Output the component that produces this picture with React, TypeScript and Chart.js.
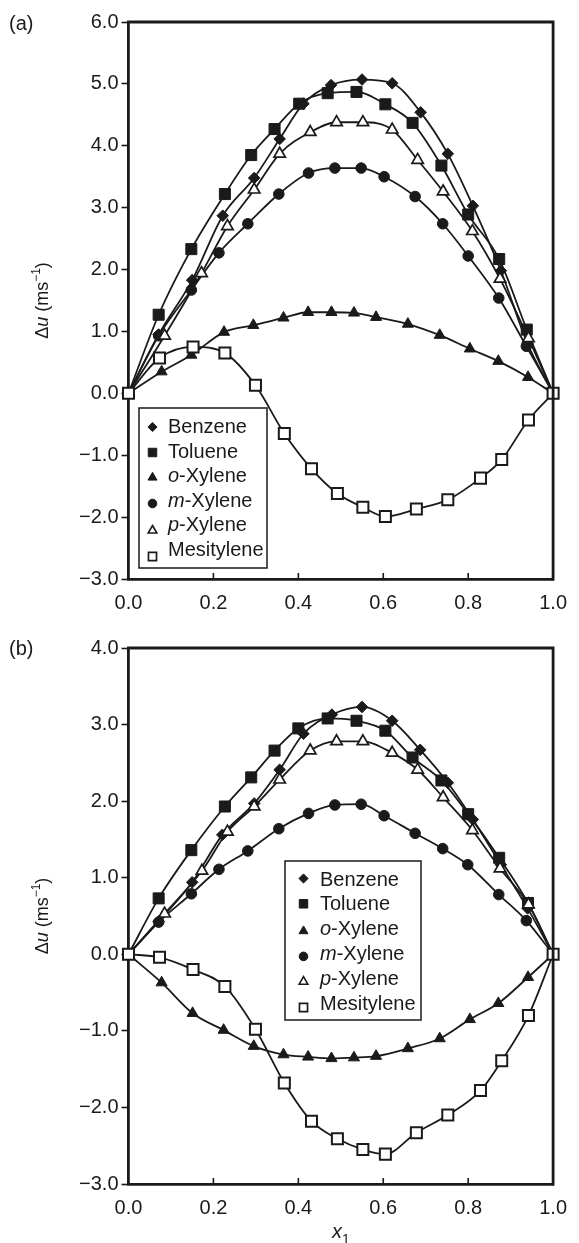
import React, { useEffect, useRef } from 'react';
import { Chart, registerables } from 'chart.js';
import { drawPoint } from 'chart.js/helpers';

Chart.register(...registerables);

// ---------- data ----------
const seriesNames = ['Benzene', 'Toluene', 'o-Xylene', 'm-Xylene', 'p-Xylene', 'Mesitylene'];
const xTicks = [0, 0.2, 0.4, 0.6, 0.8, 1.0];
const yTicksA = [-3, -2, -1, 0, 1, 2, 3, 4, 5, 6];
const yTicksB = [-3, -2, -1, 0, 1, 2, 3, 4];

// Panel (a)
const benzeneAX = [0, 0.071, 0.15, 0.222, 0.296, 0.356, 0.412, 0.477, 0.55, 0.621, 0.688, 0.752, 0.811, 0.877, 0.94, 1];
const benzeneAY = [0, 0.95, 1.83, 2.87, 3.48, 4.11, 4.68, 4.98, 5.07, 5.01, 4.54, 3.87, 3.03, 1.98, 0.8, 0];
const tolueneAX = [0, 0.071, 0.148, 0.227, 0.289, 0.344, 0.402, 0.469, 0.537, 0.605, 0.669, 0.737, 0.8, 0.873, 0.938, 1];
const tolueneAY = [0, 1.27, 2.33, 3.22, 3.85, 4.27, 4.68, 4.85, 4.87, 4.67, 4.37, 3.68, 2.89, 2.17, 1.03, 0];
const oXyleneAX = [0, 0.078, 0.148, 0.225, 0.294, 0.365, 0.423, 0.478, 0.531, 0.583, 0.658, 0.733, 0.804, 0.871, 0.941, 1];
const oXyleneAY = [0, 0.35, 0.62, 0.99, 1.1, 1.22, 1.31, 1.31, 1.3, 1.23, 1.12, 0.94, 0.72, 0.52, 0.26, 0];
const mXyleneAX = [0, 0.071, 0.148, 0.213, 0.281, 0.354, 0.424, 0.486, 0.548, 0.602, 0.675, 0.74, 0.8, 0.872, 0.937, 1];
const mXyleneAY = [0, 0.93, 1.67, 2.27, 2.74, 3.22, 3.56, 3.64, 3.64, 3.5, 3.18, 2.74, 2.22, 1.54, 0.76, 0];
const pXyleneAX = [0, 0.085, 0.172, 0.233, 0.296, 0.356, 0.428, 0.49, 0.552, 0.621, 0.681, 0.741, 0.81, 0.875, 0.942, 1];
const pXyleneAY = [0, 0.93, 1.94, 2.7, 3.29, 3.87, 4.22, 4.38, 4.38, 4.26, 3.77, 3.26, 2.62, 1.85, 0.89, 0];
const mesityleneAX = [0, 0.073, 0.152, 0.227, 0.299, 0.367, 0.431, 0.492, 0.552, 0.605, 0.678, 0.752, 0.829, 0.879, 0.942, 1];
const mesityleneAY = [0, 0.57, 0.75, 0.65, 0.13, -0.65, -1.22, -1.62, -1.84, -1.99, -1.87, -1.72, -1.37, -1.07, -0.43, 0];

// Panel (b)
const benzeneBX = [0, 0.071, 0.15, 0.221, 0.296, 0.356, 0.412, 0.479, 0.55, 0.621, 0.687, 0.752, 0.811, 0.877, 0.94, 1];
const benzeneBY = [0, 0.43, 0.94, 1.56, 1.97, 2.41, 2.88, 3.13, 3.23, 3.05, 2.67, 2.24, 1.76, 1.17, 0.6, 0];
const tolueneBX = [0, 0.071, 0.148, 0.227, 0.289, 0.344, 0.4, 0.469, 0.537, 0.605, 0.669, 0.737, 0.8, 0.873, 0.941, 1];
const tolueneBY = [0, 0.73, 1.36, 1.93, 2.31, 2.66, 2.95, 3.08, 3.05, 2.92, 2.57, 2.27, 1.83, 1.26, 0.67, 0];
const oXyleneBX = [0, 0.078, 0.151, 0.224, 0.295, 0.365, 0.423, 0.478, 0.531, 0.583, 0.658, 0.733, 0.804, 0.871, 0.941, 1];
const oXyleneBY = [0, -0.37, -0.77, -0.99, -1.2, -1.31, -1.34, -1.36, -1.35, -1.33, -1.23, -1.1, -0.85, -0.64, -0.3, 0];
const mXyleneBX = [0, 0.071, 0.148, 0.213, 0.281, 0.354, 0.424, 0.486, 0.548, 0.602, 0.675, 0.74, 0.799, 0.872, 0.937, 1];
const mXyleneBY = [0, 0.42, 0.79, 1.11, 1.35, 1.64, 1.84, 1.95, 1.96, 1.81, 1.58, 1.38, 1.17, 0.78, 0.44, 0];
const pXyleneBX = [0, 0.085, 0.173, 0.233, 0.296, 0.356, 0.428, 0.49, 0.552, 0.621, 0.681, 0.741, 0.81, 0.875, 0.942, 1];
const pXyleneBY = [0, 0.53, 1.09, 1.6, 1.93, 2.28, 2.66, 2.78, 2.78, 2.63, 2.41, 2.05, 1.62, 1.12, 0.65, 0];
const mesityleneBX = [0, 0.073, 0.152, 0.227, 0.299, 0.367, 0.431, 0.492, 0.552, 0.605, 0.678, 0.752, 0.829, 0.879, 0.942, 1];
const mesityleneBY = [0, -0.04, -0.2, -0.42, -0.98, -1.68, -2.18, -2.41, -2.55, -2.61, -2.33, -2.1, -1.78, -1.39, -0.8, 0];

// ---------- styles ----------
const INK = '#1a1a1a';
const FONT = '"Liberation Sans", Arial, Helvetica, sans-serif';
const FS = 20;

type Mk = { style: string; r: number; fill: string; bw: number; ends: boolean; lr: number; lbw: number };
const MARKERS: Mk[] = [
  { style: 'rectRot', r: 5.8, fill: INK, bw: 1, ends: false, lr: 4.6, lbw: 1 },
  { style: 'rect', r: 7.8, fill: INK, bw: 1, ends: false, lr: 6, lbw: 1 },
  { style: 'triangle', r: 6.4, fill: INK, bw: 1, ends: false, lr: 5.2, lbw: 1 },
  { style: 'circle', r: 5.3, fill: INK, bw: 1, ends: false, lr: 4.3, lbw: 1 },
  { style: 'triangle', r: 6.6, fill: '#ffffff', bw: 1.7, ends: false, lr: 5, lbw: 1.6 },
  { style: 'rect', r: 7.8, fill: '#ffffff', bw: 2, ends: true, lr: 5.7, lbw: 1.7 },
];

function drawRich(ctx: CanvasRenderingContext2D, parts: { t: string; italic?: boolean; sup?: boolean; sub?: boolean }[], x: number, y: number, size: number, align: 'left' | 'center') {
  const fontFor = (p: any) => `${p.italic ? 'italic ' : ''}${p.sup || p.sub ? Math.round(size * 0.68) : size}px ${FONT}`;
  let total = 0;
  for (const p of parts) { ctx.font = fontFor(p); total += ctx.measureText(p.t).width; }
  let cx = align === 'center' ? x - total / 2 : x;
  ctx.textBaseline = 'alphabetic';
  ctx.textAlign = 'left';
  for (const p of parts) {
    ctx.font = fontFor(p);
    const dy = p.sup ? -size * 0.42 : p.sub ? size * 0.28 : 0;
    ctx.fillText(p.t, cx, y + dy);
    cx += ctx.measureText(p.t).width;
  }
}

const decorPlugin = {
  id: 'decor',
  afterDatasetsDraw(chart: any, _args: any, opts: any) {
    const { ctx, chartArea: ca, scales } = chart;
    ctx.save();
    // top & right frame
    ctx.strokeStyle = INK;
    ctx.lineWidth = 2.8;
    ctx.beginPath();
    ctx.moveTo(ca.left - 1.4, ca.top);
    ctx.lineTo(ca.right, ca.top);
    ctx.lineTo(ca.right, ca.bottom + 1.4);
    ctx.stroke();
    // inward x ticks
    ctx.lineWidth = 1.6;
    ctx.beginPath();
    for (const t of scales.x.ticks) {
      const px = scales.x.getPixelForValue(t.value);
      if (px <= ca.left + 2 || px >= ca.right - 2) continue;
      ctx.moveTo(px, ca.bottom);
      ctx.lineTo(px, ca.bottom - 6);
    }
    ctx.stroke();

    // legend
    const lg = opts.legend;
    const bx = ca.left + lg.dx, by = ca.top + lg.dy;
    ctx.lineWidth = 1.5;
    ctx.strokeStyle = INK;
    ctx.fillStyle = '#ffffff';
    ctx.fillRect(bx, by, lg.w, lg.h);
    ctx.strokeRect(bx, by, lg.w, lg.h);
    chart.data.datasets.forEach((ds: any, i: number) => {
      const m = MARKERS[i];
      const ty = by + lg.firstRow + i * lg.rowGap;
      const my = ty + lg.markerShift[i];
      ctx.fillStyle = m.fill;
      ctx.strokeStyle = INK;
      ctx.lineWidth = m.lbw;
      drawPoint(ctx, { pointStyle: m.style as any, radius: m.lr, borderWidth: m.lbw, rotation: 0 } as any, bx + lg.markerX, my);
      ctx.fillStyle = INK;
      const name: string = ds.label;
      const mm = name.match(/^([omp])(-.*)$/);
      const parts = mm ? [{ t: mm[1], italic: true }, { t: mm[2] }] : [{ t: name }];
      drawRich(ctx, parts, bx + lg.textX, ty + 7, FS, 'left');
    });

    // y title (rotated)
    ctx.fillStyle = INK;
    ctx.save();
    ctx.translate(opts.yTitleX, (ca.top + ca.bottom) / 2);
    ctx.rotate(-Math.PI / 2);
    drawRich(ctx, [{ t: '\u0394' }, { t: 'u', italic: true }, { t: ' (ms' }, { t: '\u22121', sup: true }, { t: ')' }], 0, 6, 18, 'center');
    ctx.restore();

    // panel label
    ctx.font = `${FS}px ${FONT}`;
    ctx.textAlign = 'left';
    ctx.textBaseline = 'middle';
    ctx.fillText(opts.panel, 9, opts.panelY);

    // x title
    if (opts.xTitle) {
      drawRich(ctx, [{ t: 'x', italic: true }, { t: '1', sub: true }], (ca.left + ca.right) / 2, ca.bottom + 54, FS, 'center');
    }
    ctx.restore();
  },
};

type Series = { name: string; xs: number[]; ys: number[] };

function Panel(props: {
  top: number; height: number; yMin: number; yMax: number; yTicks: number[];
  series: Series[]; padTop: number; xHeight: number; panel: string; panelY: number;
  legend: any; xTitle: boolean;
}) {
  const ref = useRef<HTMLCanvasElement>(null);
  useEffect(() => {
    const fmt = (v: number) => (v < 0 ? '\u2212' : '') + Math.abs(v).toFixed(1);
    const chart = new Chart(ref.current as HTMLCanvasElement, {
      type: 'line',
      data: {
        datasets: props.series.map((s, i) => {
          const m = MARKERS[i];
          const last = s.xs.length - 1;
          return {
            label: s.name,
            data: s.xs.map((x, j) => ({ x, y: s.ys[j] })),
            borderColor: INK,
            borderWidth: 1.8,
            fill: false,
            cubicInterpolationMode: 'monotone',
            pointStyle: m.style,
            pointRadius: s.xs.map((_, j) => ((j === 0 || j === last) && !m.ends ? 0 : m.r)),
            pointBackgroundColor: m.fill,
            pointBorderColor: INK,
            pointBorderWidth: m.bw,
            clip: false,
            order: props.series.length - i,
          } as any;
        }),
      },
      options: {
        animation: false,
        responsive: false,
        events: [],
        layout: { padding: { left: 0, right: 17, top: props.padTop, bottom: 0 } },
        plugins: {
          legend: { display: false },
          tooltip: { enabled: false },
          decor: { legend: props.legend, panel: props.panel, panelY: props.panelY, xTitle: props.xTitle, yTitleX: 42 },
        } as any,
        scales: {
          x: {
            type: 'linear',
            min: 0,
            max: 1,
            afterFit: (s: any) => { s.height = props.xHeight; },
            afterBuildTicks: (s: any) => { s.ticks = xTicks.map((v) => ({ value: v })); },
            grid: { display: true, drawOnChartArea: false, drawTicks: false },
            border: { display: true, color: INK, width: 2.8 },
            ticks: { color: INK, font: { family: FONT, size: FS }, padding: 12, maxRotation: 0, callback: (v: any) => Number(v).toFixed(1) },
          },
          y: {
            type: 'linear',
            min: props.yMin,
            max: props.yMax,
            afterFit: (s: any) => { s.width = 128.5; },
            afterBuildTicks: (s: any) => { s.ticks = props.yTicks.map((v) => ({ value: v })); },
            grid: { display: true, drawOnChartArea: false, drawTicks: true, tickLength: 7, tickWidth: 1.6, tickColor: INK },
            border: { display: true, color: INK, width: 2.8 },
            ticks: { color: INK, font: { family: FONT, size: FS }, padding: 3, callback: (v: any) => fmt(Number(v)) },
          },
        },
      },
      plugins: [decorPlugin as any],
    });
    return () => chart.destroy();
  }, []);
  return (
    <canvas
      ref={ref}
      width={579}
      height={props.height}
      style={{ position: 'absolute', left: 0, top: props.top, width: 579, height: props.height }}
    />
  );
}

const seriesA: Series[] = [
  { name: seriesNames[0], xs: benzeneAX, ys: benzeneAY },
  { name: seriesNames[1], xs: tolueneAX, ys: tolueneAY },
  { name: seriesNames[2], xs: oXyleneAX, ys: oXyleneAY },
  { name: seriesNames[3], xs: mXyleneAX, ys: mXyleneAY },
  { name: seriesNames[4], xs: pXyleneAX, ys: pXyleneAY },
  { name: seriesNames[5], xs: mesityleneAX, ys: mesityleneAY },
];
const seriesB: Series[] = [
  { name: seriesNames[0], xs: benzeneBX, ys: benzeneBY },
  { name: seriesNames[1], xs: tolueneBX, ys: tolueneBY },
  { name: seriesNames[2], xs: oXyleneBX, ys: oXyleneBY },
  { name: seriesNames[3], xs: mXyleneBX, ys: mXyleneBY },
  { name: seriesNames[4], xs: pXyleneBX, ys: pXyleneBY },
  { name: seriesNames[5], xs: mesityleneBX, ys: mesityleneBY },
];

export default function App() {
  return (
    <div style={{ position: 'absolute', left: 0, top: 0, width: 579, height: 1243, background: '#ffffff' }}>
      <Panel
        top={0}
        height={620}
        yMin={-3}
        yMax={6}
        yTicks={yTicksA}
        series={seriesA}
        padTop={22}
        xHeight={41}
        panel="(a)"
        panelY={24}
        xTitle={false}
        legend={{ dx: 10.5, dy: 386, w: 128, h: 160, firstRow: 18, rowGap: 24.5, markerX: 13.5, textX: 29, markerShift: [1, 2, 2.5, 4, 6.5, 8] }}
      />
      <Panel
        top={625}
        height={618}
        yMin={-3}
        yMax={4}
        yTicks={yTicksB}
        series={seriesB}
        padTop={23}
        xHeight={59}
        panel="(b)"
        panelY={24}
        xTitle={true}
        legend={{ dx: 156.5, dy: 213, w: 136, h: 159, firstRow: 17.5, rowGap: 24.8, markerX: 18.5, textX: 35, markerShift: [0, 0.5, 3, 3.5, 4, 5] }}
      />
    </div>
  );
}
